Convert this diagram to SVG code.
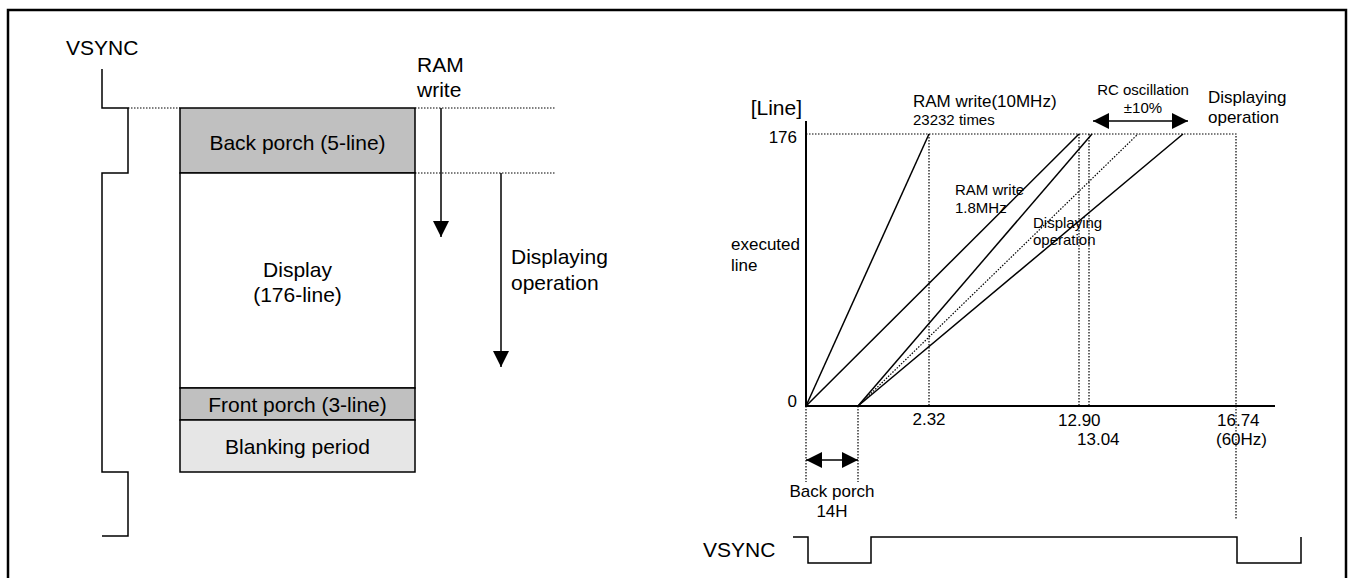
<svg xmlns="http://www.w3.org/2000/svg" width="1349" height="578" viewBox="0 0 1349 578">
<style>
text{font-family:"Liberation Sans",Arial,sans-serif;fill:#000}
.f21{font-size:21px}.f17{font-size:17px}.f15{font-size:15px}
.s{fill:none;stroke:#000;stroke-width:1.5}
.ax{fill:none;stroke:#000;stroke-width:2}
.dot{fill:none;stroke:#000;stroke-width:1.2;stroke-dasharray:1.5 1.5}
.box{stroke:#000;stroke-width:1.5}
.m{text-anchor:middle}.e{text-anchor:end}
</style>
<defs>
<marker id="ah" viewBox="0 0 16 16" refX="16" refY="8" markerWidth="16" markerHeight="16" orient="auto-start-reverse" markerUnits="userSpaceOnUse"><path d="M0,0 L16,8 L0,16 z" fill="#000"/></marker>
</defs>
<rect x="8" y="10" width="1338" height="590" fill="#fff" stroke="#000" stroke-width="2.5"/>

<g id="left-vsync">
<text class="f21" x="66" y="55">VSYNC</text>
<path class="s" d="M102,69 V108 H128 V173 H102 V472 H128 V536 H102"/>
</g>

<g id="frame-box">
<rect id="back-porch" class="box" x="180" y="108" width="235" height="65" fill="#c0c0c0"/>
<rect id="display" class="box" x="180" y="173" width="235" height="215" fill="#fff"/>
<rect id="front-porch" class="box" x="180" y="388" width="235" height="32" fill="#c0c0c0"/>
<rect id="blanking" class="box" x="180" y="420" width="235" height="52" fill="#e6e6e6"/>
<text class="f21 m" x="297.5" y="150">Back porch (5-line)</text>
<text class="f21 m" x="297.5" y="277">Display</text>
<text class="f21 m" x="297.5" y="302">(176-line)</text>
<text class="f21 m" x="297.5" y="412">Front porch (3-line)</text>
<text class="f21 m" x="297.5" y="454">Blanking period</text>
</g>

<g id="left-labels">
<text class="f21" x="417" y="72">RAM</text>
<text class="f21" x="417" y="97">write</text>
<text class="f21" x="511" y="264">Displaying</text>
<text class="f21" x="511" y="290">operation</text>
</g>

<g id="graph-labels">
<text class="f21 e" x="802" y="115">[Line]</text>
<text class="f17 e" x="797" y="143">176</text>
<text class="f17" x="731" y="250">executed</text>
<text class="f17" x="731" y="271">line</text>
<text class="f17 e" x="797" y="407">0</text>
<text class="f17" x="913" y="107">RAM write(10MHz)</text>
<text class="f15" x="913" y="125">23232 times</text>
<text class="f15" x="955" y="195">RAM write</text>
<text class="f15" x="955" y="213">1.8MHz</text>
<text class="f15" x="1033" y="228">Displaying</text>
<text class="f15" x="1033" y="245">operation</text>
<text class="f15 m" x="1143" y="95">RC oscillation</text>
<text class="f15 m" x="1143" y="113">±10%</text>
<text class="f17" x="1208" y="103">Displaying</text>
<text class="f17" x="1208" y="123">operation</text>
<text class="f17 m" x="929" y="425">2.32</text>
<text class="f17" x="1058" y="426">12.90</text>
<text class="f17" x="1077" y="445">13.04</text>
<text class="f17" x="1217" y="426">16.74</text>
<text class="f17" x="1216" y="445">(60Hz)</text>
<text class="f17 m" x="832" y="497">Back porch</text>
<text class="f17 m" x="832" y="517">14H</text>
</g>

<g id="bottom-vsync">
<text class="f21" x="703" y="557">VSYNC</text>
<path class="s" d="M793,537 H808 V563 H871 V537 H1237 V563 H1301 V537"/>
</g>

<g id="connectors">
<line class="dot" x1="128" y1="108" x2="180" y2="108"/>
<line class="dot" x1="415" y1="108" x2="555" y2="108"/>
<line class="dot" x1="415" y1="173" x2="555" y2="173"/>
<line class="s" x1="441" y1="108" x2="441" y2="237" marker-end="url(#ah)"/>
<line class="s" x1="501" y1="173" x2="501" y2="367" marker-end="url(#ah)"/>

<line class="ax" x1="806" y1="121" x2="806" y2="406"/>
<line class="ax" x1="805" y1="406" x2="1275" y2="406"/>
<path class="dot" d="M806,134 H1236 V520"/>
<line class="dot" x1="929" y1="134" x2="929" y2="406"/>
<line class="dot" x1="1079" y1="134" x2="1079" y2="406"/>
<line class="dot" x1="1089" y1="134" x2="1089" y2="406"/>
<line class="dot" x1="806" y1="406" x2="806" y2="482"/>
<line class="dot" x1="858" y1="406" x2="858" y2="482"/>

<line class="s" x1="806" y1="406" x2="929" y2="134"/>
<line class="s" x1="806" y1="406" x2="1079" y2="134"/>
<line class="s" x1="858" y1="406" x2="1092" y2="134"/>
<line class="dot" x1="858" y1="406" x2="1138" y2="134"/>
<line class="s" x1="858" y1="406" x2="1183" y2="134"/>

<line class="s" x1="1093" y1="121" x2="1188" y2="121" marker-start="url(#ah)" marker-end="url(#ah)"/>
<line class="s" x1="806" y1="460" x2="858" y2="460" marker-start="url(#ah)" marker-end="url(#ah)"/>
</g>
</svg>
